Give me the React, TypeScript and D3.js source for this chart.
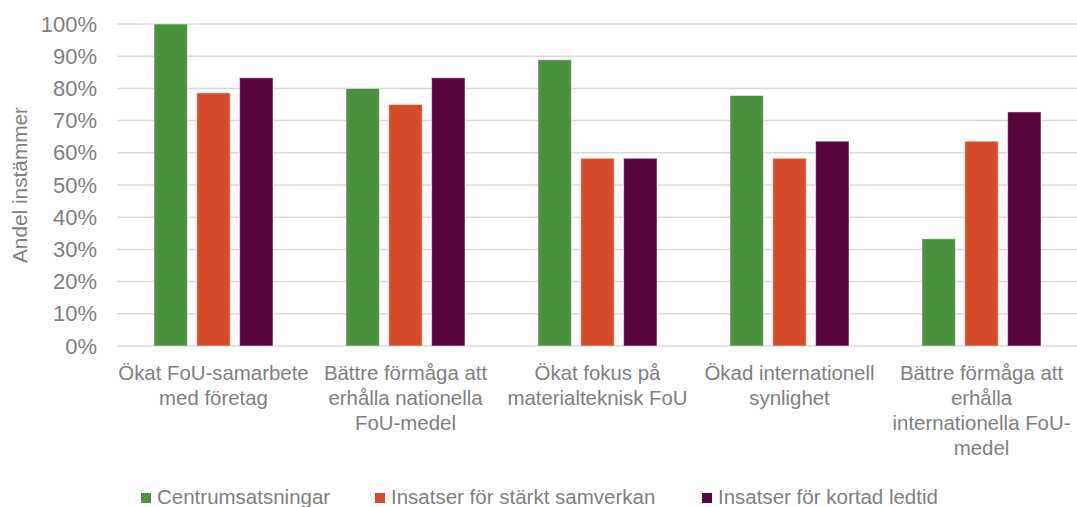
import React from "react";
import * as d3 from "d3";

const categories: string[][] = [
  ["Ökat FoU-samarbete", "med företag"],
  ["Bättre förmåga att", "erhålla nationella", "FoU-medel"],
  ["Ökat fokus på", "materialteknisk FoU"],
  ["Ökad internationell", "synlighet"],
  ["Bättre förmåga att", "erhålla", "internationella FoU-", "medel"],
];

const seriesNames = [
  "Centrumsatsningar",
  "Insatser för stärkt samverkan",
  "Insatser för kortad ledtid",
];

const centrumsatsningar = [1.0, 0.8, 0.889, 0.778, 0.333];
const samverkan = [0.786, 0.75, 0.583, 0.583, 0.636];
const ledtid = [0.833, 0.833, 0.583, 0.636, 0.727];

const seriesValues = [centrumsatsningar, samverkan, ledtid];
const colors = ["#4a9140", "#d64c28", "#59063f"];

const yTicks = [0, 0.1, 0.2, 0.3, 0.4, 0.5, 0.6, 0.7, 0.8, 0.9, 1.0];

const W = 1077;
const H = 507;
const FONT = "'Liberation Sans', Arial, sans-serif";
const TEXT = "#7f7f7f";

export default function App() {
  const left = 117.5;
  const right = 1077.5;
  const top = 24;
  const bottom = 346;

  const idx = categories.map((_, i) => String(i));
  const x0 = d3
    .scaleBand<string>()
    .domain(idx)
    .range([left, right])
    .paddingInner(0.38)
    .paddingOuter(0.19);
  const x1 = d3
    .scaleBand<string>()
    .domain(seriesNames)
    .range([0, x0.bandwidth()])
    .paddingInner(0.22);
  const y = d3.scaleLinear().domain([0, 1]).range([bottom, top]);
  const pct = d3.format(".0%");

  const legendX = [141, 375, 702];

  return (
    <svg
      width={W}
      height={H}
      style={{ position: "absolute", left: 0, top: 0, background: "#fff" }}
      fontFamily={FONT}
    >
      {/* gridlines and tick labels */}
      {yTicks.map((t) => (
        <g key={t}>
          <line
            x1={left}
            x2={right}
            y1={y(t)}
            y2={y(t)}
            stroke="#d9d9d9"
            strokeWidth={1.5}
          />
          <text
            x={97}
            y={y(t) + 7.5}
            textAnchor="end"
            fontSize={22}
            fill={TEXT}
          >
            {pct(t)}
          </text>
        </g>
      ))}

      {/* axis title */}
      <text
        transform={`translate(27,${(top + bottom) / 2}) rotate(-90)`}
        textAnchor="middle"
        fontSize={20.8}
        fill={TEXT}
      >
        Andel instämmer
      </text>

      {/* bars */}
      {categories.map((_, ci) => (
        <g key={ci} transform={`translate(${x0(String(ci))},0)`}>
          {seriesNames.map((s, si) => {
            const v = seriesValues[si][ci];
            return (
              <rect
                key={s}
                x={x1(s)}
                y={y(v)}
                width={x1.bandwidth()}
                height={y(0) - y(v)}
                fill={colors[si]}
                stroke="#ffffff"
                strokeOpacity={0.5}
                strokeWidth={1}
              />
            );
          })}
        </g>
      ))}

      {/* category labels */}
      {categories.map((lines, ci) => {
        const cx = (x0(String(ci)) as number) + x0.bandwidth() / 2;
        return (
          <text
            key={ci}
            x={cx}
            y={380}
            textAnchor="middle"
            fontSize={20.4}
            fill={TEXT}
          >
            {lines.map((l, li) => (
              <tspan key={li} x={cx} dy={li === 0 ? 0 : 25}>
                {l}
              </tspan>
            ))}
          </text>
        );
      })}

      {/* legend */}
      {seriesNames.map((s, si) => (
        <g key={s}>
          <rect x={legendX[si]} y={493} width={10} height={10} fill={colors[si]} />
          <text x={legendX[si] + 16} y={504} fontSize={20.5} fill={TEXT}>
            {s}
          </text>
        </g>
      ))}
    </svg>
  );
}
